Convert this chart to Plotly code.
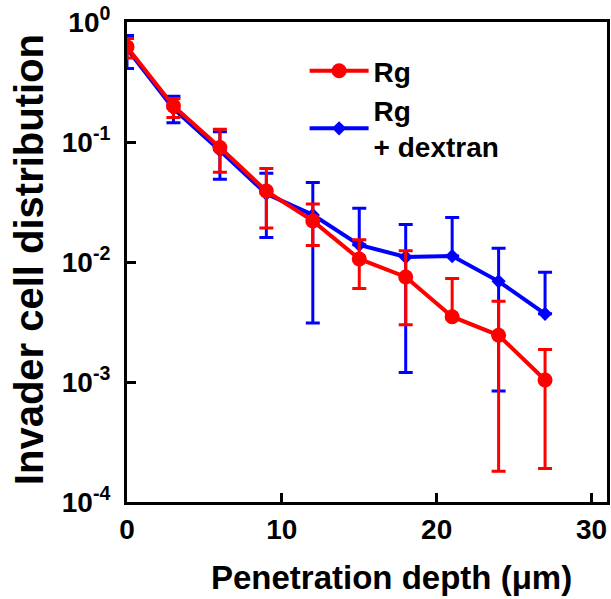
import plotly.graph_objects as go

# penetration depth (um)
depth = [0, 3, 6, 9, 12, 15, 18, 21, 24, 27]

# Rg
rg_mean = [0.62, 0.20, 0.090, 0.039, 0.022, 0.0106, 0.0075, 0.0035, 0.00245, 0.00104]
rg_upper = [0.73, 0.23, 0.128, 0.060, 0.0304, 0.0153, 0.0124, 0.0073, 0.0047, 0.00187]
rg_lower = [0.50, 0.16, 0.056, 0.0192, 0.0137, 0.0060, 0.0030, None, 0.00018, 0.00019]

# Rg + dextran
dx_mean = [0.60, 0.19, 0.085, 0.037, 0.0247, 0.0139, 0.011, 0.0112, 0.0069, 0.0037]
dx_upper = [0.77, 0.24, 0.122, 0.055, 0.046, 0.028, 0.0205, 0.0235, 0.013, 0.0082]
dx_lower = [0.41, 0.145, 0.049, 0.016, 0.0031, None, 0.0012, None, 0.00084, None]

y_tickvals = [1e-4, 1e-3, 1e-2, 1e-1, 1]
y_ticktext = ["10<sup>-4</sup>", "10<sup>-3</sup>", "10<sup>-2</sup>", "10<sup>-1</sup>", "10<sup>0</sup>"]
x_tickvals = [0, 10, 20, 30]

FONT = "Liberation Sans, Arial, sans-serif"


def err_bars(mean, upper, lower, color):
    """Asymmetric error bars; missing lower end -> only upper bar drawn"""
    plus = [u - m for u, m in zip(upper, mean)]
    minus = [0 if lo is None else m - lo for lo, m in zip(lower, mean)]
    return dict(
        type="data",
        symmetric=False,
        array=plus,
        arrayminus=minus,
        color=color,
        thickness=3,
        width=7,
    )


fig = go.Figure()

fig.add_trace(
    go.Scatter(
        x=depth,
        y=dx_mean,
        name="Rg<br>+ dextran",
        mode="lines+markers",
        line=dict(color="#0000FF", width=4),
        marker=dict(symbol="diamond", size=11, color="#0000FF"),
        error_y=err_bars(dx_mean, dx_upper, dx_lower, "#0000FF"),
        legendrank=2,
    )
)

fig.add_trace(
    go.Scatter(
        x=depth,
        y=rg_mean,
        name="Rg",
        mode="lines+markers",
        line=dict(color="#FF0000", width=4),
        marker=dict(symbol="circle", size=15, color="#FF0000"),
        error_y=err_bars(rg_mean, rg_upper, rg_lower, "#FF0000"),
        legendrank=1,
    )
)

axis_style = dict(
    ticks="inside",
    ticklen=9,
    tickwidth=3,
    tickcolor="black",
    showline=True,
    linewidth=3,
    linecolor="black",
    mirror=True,
    showgrid=False,
    zeroline=False,
    automargin=False,
    ticklabeloverflow="allow",
    tickfont=dict(family=FONT, size=28, color="black", weight="bold"),
)

fig.update_xaxes(range=[0, 31], tickvals=x_tickvals, ticklabelstandoff=0, **axis_style)

fig.update_yaxes(
    type="log",
    range=[-4, 0],
    tickvals=y_tickvals,
    ticktext=y_ticktext,
    ticklabelstandoff=8,
    **axis_style,
)

fig.update_layout(
    width=611,
    height=599,
    margin=dict(l=127, r=4, t=22, b=97),
    plot_bgcolor="white",
    paper_bgcolor="white",
    font=dict(family=FONT, color="black"),
    showlegend=True,
    legend=dict(
        x=0.37,
        y=0.95,
        xanchor="left",
        yanchor="top",
        bgcolor="rgba(0,0,0,0)",
        font=dict(family=FONT, size=28, color="black", weight="bold"),
        valign="middle",
        itemwidth=59,
        tracegroupgap=4,
    ),
    annotations=[
        dict(
            text="Penetration depth (μm)",
            xref="paper",
            yref="paper",
            x=0.55,
            y=-0.158,
            xanchor="center",
            yanchor="middle",
            showarrow=False,
            font=dict(family=FONT, size=33, color="black", weight="bold"),
        ),
        dict(
            text="Invader cell distribution",
            xref="paper",
            yref="paper",
            x=-0.204,
            y=0.504,
            xanchor="center",
            yanchor="middle",
            textangle=-90,
            showarrow=False,
            font=dict(family=FONT, size=40, color="black", weight="bold"),
        ),
    ],
)

# drop the default 8px page margin so the figure fills the window
fig.write_html(
    "out.html",
    config={"displayModeBar": False},
    post_script="document.body.style.margin = '0';",
)
